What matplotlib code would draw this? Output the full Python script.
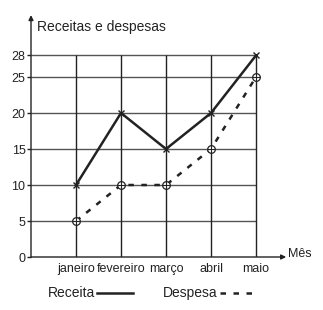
import matplotlib.pyplot as plt
from matplotlib.lines import Line2D

meses = ['janeiro', 'fevereiro', 'março', 'abril', 'maio']
receita = [10, 20, 15, 20, 28]
despesa = [5, 10, 10, 15, 25]
yticks = [0, 5, 10, 15, 20, 25, 28]

plt.rcParams['font.family'] = ['Liberation Sans', 'DejaVu Sans']

W, H = 323, 310
fig = plt.figure(figsize=(W / 100, H / 100), dpi=100)
# origin at pixel (31, 257), 45 px per month, 7.2 px per unit
ax = fig.add_axes([31 / W, (H - 257) / H, 270 / W, 34 * 7.2 / H])
ax.set_xlim(0, 6)
ax.set_ylim(0, 34)
for s in ax.spines.values():
    s.set_visible(False)

x = list(range(1, len(meses) + 1))

# grid
ax.hlines(yticks[1:], 0, x[-1], color='#555555', lw=1.0, zorder=1)
ax.vlines(x, 0, yticks[-1], color='#222222', lw=1.0, zorder=1)

# axes with arrows
ax.annotate('', xy=(0, 33.6), xytext=(0, 0),
            arrowprops=dict(arrowstyle='-|>', color='#222222', lw=1.0,
                            mutation_scale=7, shrinkA=0, shrinkB=0))
ax.annotate('', xy=(5.67, 0), xytext=(0, 0),
            arrowprops=dict(arrowstyle='-|>', color='#222222', lw=1.0,
                            mutation_scale=7, shrinkA=0, shrinkB=0))
ax.text(5.71, 0.45, 'Mês', fontsize=9, ha='left', va='center', color='#222222')
ax.text(0.13, 31.9, 'Receitas e despesas', fontsize=10, ha='left', va='center',
        color='#222222')

ax.set_yticks(yticks)
ax.set_xticks(x)
ax.set_xticklabels(meses)
ax.tick_params(axis='y', length=3, width=1, pad=1, labelsize=9, color='#222222',
               labelcolor='#222222')
ax.tick_params(axis='x', length=0, pad=4, labelsize=9, labelcolor='#222222')

# series
ax.plot(x, receita, color='#222222', lw=1.8, marker='x', markersize=5,
        markeredgewidth=1.0, zorder=3, clip_on=False)
ax.plot(x, despesa, color='#222222', lw=1.8, ls=(0, (2.2, 3)),
        marker='o', markersize=5.5, markerfacecolor='white',
        markeredgecolor='#222222', markeredgewidth=0.9, zorder=3, clip_on=False)
ax.plot(x, despesa, ls='none', marker='+', markersize=5.5, color='#222222',
        markeredgewidth=0.8, zorder=4, clip_on=False)

# legend drawn by hand
ly = 1 - 293 / H
fig.text(48 / W, ly, 'Receita', fontsize=10, ha='left', va='center', color='#222222')
fig.add_artist(Line2D([97 / W, 133 / W], [ly, ly], color='#222222', lw=1.8))
fig.text(163 / W, ly, 'Despesa', fontsize=10, ha='left', va='center', color='#222222')
fig.add_artist(Line2D([220 / W, 252 / W], [ly, ly], color='#222222', lw=1.8,
                      ls=(0, (2.2, 3))))

fig.savefig('out.png', dpi=100)
